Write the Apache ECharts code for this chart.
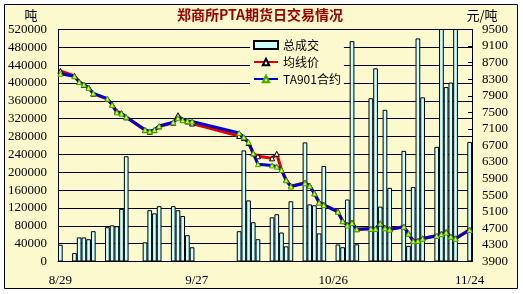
<!DOCTYPE html>
<html><head><meta charset="utf-8">
<script src="https://cdn.jsdelivr.net/npm/echarts@6/dist/echarts.min.js"></script>
<style>html,body{margin:0;padding:0;background:#fff;}#c{width:523px;height:294px;}</style>
</head><body><div id="c"></div>
<script>
// Calendar range of the category axis (every calendar day is a slot)
const startDate = '2008-08-29';
const endDate = '2008-11-24';
// Trading days (M/D)
const tradeDays = ['8/29',
 '9/1','9/2','9/3','9/4','9/5',
 '9/8','9/9','9/10','9/11','9/12',
 '9/16','9/17','9/18','9/19',
 '9/22','9/23','9/24','9/25','9/26',
 '10/6','10/7','10/8','10/9','10/10',
 '10/13','10/14','10/15','10/16','10/17',
 '10/20','10/21','10/22','10/23','10/24',
 '10/27','10/28','10/29','10/30','10/31',
 '11/3','11/4','11/5','11/6','11/7',
 '11/10','11/11','11/12','11/13','11/14',
 '11/17','11/18','11/19','11/20','11/21',
 '11/24'];
// 总成交 (吨)
const volume = [37500,
 19000,54000,54000,50000,68000,
 77000,81000,79000,118000,236000,
 43000,115000,108000,124000,
 124000,115000,102000,59000,32000,
 68000,249000,137000,88000,50000,
 99000,106000,65000,34000,135000,
 267000,128000,126000,63000,214000,
 38000,32000,139000,494000,38500,
 366000,433000,123000,340000,165000,
 248000,35000,167000,500000,368000,
 257000,580000,391000,401000,560000,
 268000];
// 均线价 (元/吨)
const avgPrice = [8500,
 8380,8240,8160,8100,7950,
 7820,7690,7520,7480,7380,
 7070,7030,7070,7160,
 7250,7430,7320,7280,7230,
 6930,6880,6760,6510,6440,
 6390,6500,6110,5870,5720,
 5800,5730,5550,5330,5270,
 5110,4880,4780,4840,4680,
 4690,4690,4820,4710,4680,
 4740,4580,4400,4400,4460,
 4520,4570,4610,4500,4460,
 4670];
// TA901合约 (元/吨)
const ta901 = [8430,
 8370,8230,8170,8090,7960,
 7830,7680,7500,7470,7390,
 7080,7040,7080,7170,
 7260,7360,7310,7290,7280,
 7000,6900,6780,6510,6250,
 6220,6190,6110,5860,5710,
 5790,5720,5540,5320,5260,
 5100,4870,4770,4830,4680,
 4690,4690,4820,4700,4670,
 4740,4570,4390,4400,4450,
 4520,4560,4600,4500,4450,
 4660];
const volTicks = {min: 0, max: 520000, step: 40000};
const priceTicks = {min: 3900, max: 9500, step: 400};

// build calendar categories
const categories = [];
{
  let d = new Date(startDate + 'T00:00:00Z');
  const e = new Date(endDate + 'T00:00:00Z');
  while (d <= e) {
    categories.push((d.getUTCMonth() + 1) + '/' + d.getUTCDate());
    d = new Date(d.getTime() + 86400000);
  }
}
const idx = {};
tradeDays.forEach((t, i) => idx[t] = i);
const pick = arr => categories.map(c => idx[c] !== undefined ? arr[idx[c]] : null);

const bg = '#FCF9CE';
const serif = '"Liberation Serif", "DejaVu Serif", serif';
const cjk = '"Noto Sans CJK SC", sans-serif';

const chart = echarts.init(document.getElementById('c'), null, {renderer: 'canvas'});
chart.setOption({
  animation: false,
  backgroundColor: '#fff',
  graphic: [
    {type: 'rect', shape: {x: 4.5, y: 4.5, width: 513, height: 284}, style: {fill: bg, stroke: '#000', lineWidth: 1}, z: -10, silent: true},
    {type: 'text', x: 260, y: 15, style: {text: '郑商所PTA期货日交易情况', font: 'bold 14px ' + cjk, fill: '#9B0000', align: 'center', verticalAlign: 'middle'}},
    {type: 'text', x: 31, y: 15, style: {text: '吨', font: '13px ' + cjk, fill: '#000', align: 'center', verticalAlign: 'middle'}},
    {type: 'text', x: 482, y: 15, style: {text: '元/吨', font: '13px ' + cjk, fill: '#000', align: 'center', verticalAlign: 'middle'}}
  ],
  grid: {left: 58, right: 51, top: 29.5, bottom: 32.5, show: true, backgroundColor: bg, borderWidth: 0},
  legend: {
    orient: 'vertical', left: 250, top: 37,
    backgroundColor: bg, padding: [2, 3],
    itemWidth: 24, itemHeight: 8, itemGap: 5,
    textStyle: {fontFamily: cjk, fontSize: 12, color: '#000', lineHeight: 12},
    data: [
      {name: '总成交', icon: 'rect'},
      {name: '均线价'},
      {name: 'TA901合约'}
    ]
  },
  xAxis: {
    type: 'category', data: categories, boundaryGap: true,
    axisLine: {lineStyle: {color: '#000', width: 1}},
    axisTick: {show: false},
    axisLabel: {interval: 28, color: '#000', fontFamily: serif, fontSize: 13, margin: 13},
    splitLine: {show: false}
  },
  yAxis: [
    {
      type: 'value', min: volTicks.min, max: volTicks.max, interval: volTicks.step,
      axisLine: {show: true, lineStyle: {color: '#000'}},
      axisTick: {show: false},
      axisLabel: {color: '#000', fontFamily: serif, fontSize: 13, margin: 11, formatter: v => String(v)},
      splitLine: {show: true, lineStyle: {color: '#000', width: 1}}
    },
    {
      type: 'value', min: priceTicks.min, max: priceTicks.max, interval: priceTicks.step,
      position: 'right',
      axisLine: {show: true, lineStyle: {color: '#000'}},
      axisTick: {show: true, inside: true, length: 4, lineStyle: {color: '#000'}},
      axisLabel: {color: '#000', fontFamily: serif, fontSize: 13, margin: 10, formatter: v => String(v)},
      splitLine: {show: false}
    }
  ],
  series: [
    {
      name: '总成交', type: 'bar', data: pick(volume), barCategoryGap: '0%', clip: true,
      itemStyle: {color: '#CCFFFF', borderColor: '#000', borderWidth: 1}
    },
    {
      name: '均线价', type: 'line', yAxisIndex: 1, data: pick(avgPrice), connectNulls: true,
      symbol: 'triangle', symbolSize: 5, showAllSymbol: true,
      lineStyle: {color: '#E00000', width: 3},
      itemStyle: {color: '#fff', borderColor: '#000', borderWidth: 1}
    },
    {
      name: 'TA901合约', type: 'line', yAxisIndex: 1, data: pick(ta901), connectNulls: true,
      symbol: 'triangle', symbolSize: 5, showAllSymbol: true,
      lineStyle: {color: '#0000CC', width: 3},
      itemStyle: {color: '#CCFF33', borderColor: '#44AA00', borderWidth: 1}
    }
  ]
});
</script></body></html>
